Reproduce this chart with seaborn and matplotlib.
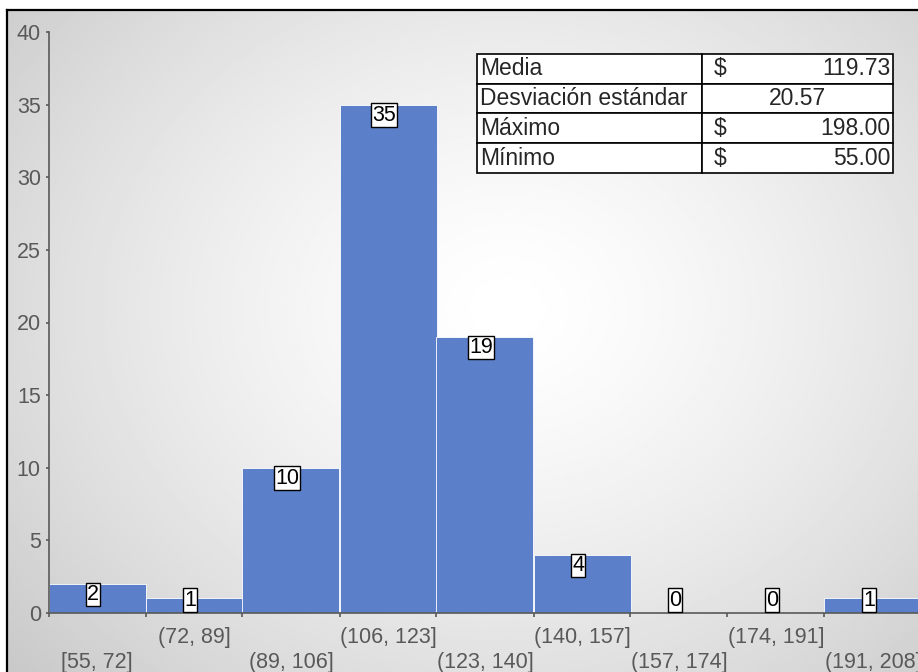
import numpy as np
import matplotlib
matplotlib.use("Agg")
import matplotlib.pyplot as plt
import seaborn as sns

# ========== DATA ==========
bin_labels = ["[55, 72]", "(72, 89]", "(89, 106]", "(106, 123]", "(123, 140]",
              "(140, 157]", "(157, 174]", "(174, 191]", "(191, 208]"]
counts = [2, 1, 10, 35, 19, 4, 0, 0, 1]

stat_names = ["Media", "Desviación estándar", "Máximo", "Mínimo"]
stat_values = ["119.73", "20.57", "198.00", "55.00"]
stat_has_dollar = [True, False, True, True]

# ========== STYLE ==========
sns.set_theme(style="white")
plt.rcParams['font.family'] = ['Liberation Sans', 'DejaVu Sans']
GRAY = "#595959"
BAR = "#5B80C9"

fig = plt.figure(figsize=(9.18, 6.72), dpi=100)
W, H = 918, 672

# radial gradient background with frame line on top/left
bg = fig.add_axes([7 / W, 0, 1 - 7 / W, 1 - 10 / H], zorder=-10)
yy, xx = np.mgrid[0:1:300j, 0:1:400j]
r = np.sqrt(((xx - 0.55) / 0.75) ** 2 + ((yy - 0.45) / 0.85) ** 2)
grad = 1.0 - 0.22 * np.clip(r, 0, 1) ** 1.4
bg.imshow(grad, cmap="gray", vmin=0, vmax=1, aspect="auto", extent=[0, 1, 0, 1])
bg.set_xticks([])
bg.set_yticks([])
for s in ["right", "bottom"]:
    bg.spines[s].set_visible(False)
for s in ["left", "top"]:
    bg.spines[s].set_color("black")
    bg.spines[s].set_linewidth(1.6)

# ========== HISTOGRAM ==========
ax = fig.add_axes([48.5 / W, 59 / H, 873 / W, 581 / H])
ax.set_facecolor("none")
sns.barplot(x=bin_labels, y=counts, color=BAR, saturation=1, width=1,
            edgecolor="white", linewidth=0.6, ax=ax)
ax.set_xlim(-0.5, len(bin_labels) - 0.5)
ax.set_ylim(0, 40)
ax.set_yticks(range(0, 41, 5))
ax.set_xlabel("")
ax.set_ylabel("")

for s in ["top", "right"]:
    ax.spines[s].set_visible(False)
for s in ["left", "bottom"]:
    ax.spines[s].set_color(GRAY)
    ax.spines[s].set_linewidth(1.2)

# staggered category labels at bin centres, tick marks at bin edges
ax.set_xticks(range(len(bin_labels)))
ax.set_xticklabels([("\n" + l) if i % 2 == 0 else l for i, l in enumerate(bin_labels)])
ax.set_xticks(np.arange(len(bin_labels) + 1) - 0.5, minor=True)
ax.tick_params(axis="x", which="major", length=0, pad=10, labelsize=15.5, labelcolor=GRAY)
ax.tick_params(axis="x", which="minor", length=3, width=1.2, color=GRAY, bottom=True)
ax.tick_params(axis="y", which="major", length=2.5, width=1.2, color=GRAY, left=True,
               pad=3, labelsize=15.5, labelcolor=GRAY)
plt.setp(ax.get_xticklabels(), linespacing=1.28)

for i, c in enumerate(counts):
    ax.text(i - 0.04, max(c, 1.6), str(c), ha="center", va="top", fontsize=15.5,
            color="black",
            bbox=dict(boxstyle="square,pad=0.06", fc="white", ec="black", lw=1))

# ========== STATS TABLE ==========
tax = fig.add_axes([477 / W, 1 - 173 / H, 416 / W, 119 / H])
tax.axis("off")
cell_text = [[n, v] for n, v in zip(stat_names, stat_values)]
tbl = tax.table(cellText=cell_text, colWidths=[225 / 416, 191 / 416],
                bbox=[0, 0, 1, 1], cellLoc="right")
tbl.auto_set_font_size(False)
for (r_, c_), cell in tbl.get_celld().items():
    cell.set_edgecolor("black")
    cell.set_linewidth(1.2)
    cell.set_facecolor("white")
    cell.PAD = 0.012
    cell.get_text().set_fontsize(16.5)
    if c_ == 0:
        cell.get_text().set_horizontalalignment("left")
    elif not stat_has_dollar[r_]:
        cell.get_text().set_horizontalalignment("center")
        cell.PAD = 0.08
for r_, has in enumerate(stat_has_dollar):
    if has:
        tax.text((714 - 477) / 416, 1 - (r_ + 0.5) / 4, "$", ha="left", va="center",
                 fontsize=16.5, transform=tax.transAxes)

fig.savefig("out.png", dpi=100)
